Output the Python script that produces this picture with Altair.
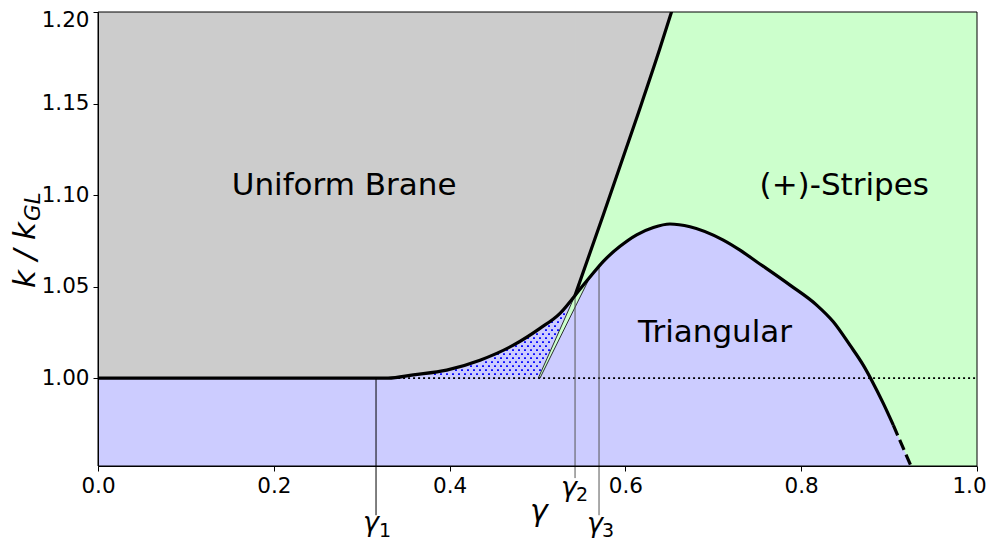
import altair as alt
import pandas as pd
import numpy as np

# ---------------- data ----------------
# Uniform-brane boundary (flat + curved part), ends at gamma_2 junction
uni_g = [0.0, 0.33, 0.3587, 0.3967, 0.4346, 0.4725, 0.5028, 0.5256, 0.5427]
uni_k = [1.0, 1.0, 1.0018, 1.0044, 1.0098, 1.0180, 1.0272, 1.0354, 1.0452]
# Uniform / (+)-stripes boundary (nearly straight)
str_g = [0.5427, 0.5749, 0.6128, 0.6394, 0.6527]
str_k = [1.0452, 1.0892, 1.1421, 1.1803, 1.2004]
# Triangular boundary (solid part)
tri_g = [0.5427, 0.5597, 0.5749, 0.5939, 0.6128, 0.6318, 0.6507, 0.6735, 0.7114,
         0.7304, 0.7493, 0.7873, 0.8176, 0.8365, 0.8555, 0.8706, 0.8801, 0.8934, 0.9048]
tri_k = [1.0452, 1.0552, 1.0638, 1.0720, 1.0783, 1.0823, 1.0842, 1.0827, 1.0754,
         1.0699, 1.0636, 1.0508, 1.0399, 1.0308, 1.0180, 1.0071, 0.9989, 0.9862, 0.9743]
# Triangular boundary (dashed continuation)
dash_g = [0.9048, 0.9256]
dash_k = [0.9743, 0.9512]
# thin auxiliary lines near gamma_2
lineA_g = [0.5009, 0.5427]
lineA_k = [1.0, 1.0452]
lineB_g = [0.5028, 0.5597]
lineB_k = [1.0, 1.0552]
# small green sliver between the thin lines
sliver_g = [0.5009, 0.5028, 0.5427, 0.5597]
sliver_hi = [1.0, 1.0021, 1.0452, 1.0552]
sliver_lo = [1.0, 1.0, 1.0387, 1.0552]
# special gammas
gam_names = ["γ1", "γ2", "γ3"]
gam_x = [0.3163, 0.5427, 0.5700]
gam_top = [1.0, 1.0452, 1.0620]
gam_bot = [0.9251, 0.9454, 0.9251]

K_MIN, K_MAX = 0.952, 1.2
W, H = 879, 454

xs = alt.Scale(domain=[0, 1], nice=False, zero=False)
ys = alt.Scale(domain=[K_MIN, K_MAX], nice=False, zero=False)
xaxis = alt.Axis(values=[0, 0.2, 0.4, 0.6, 0.8, 1.0], format=".1f", title=None,
                 grid=False, zindex=1, tickSize=5, labelPadding=4, labelFlush=False,
                 labelOffset={"expr": "datum.value >= 0.99 ? -8 : 0"})
yaxis = alt.Axis(values=[1.0, 1.05, 1.1, 1.15, 1.2], format=".2f", title=None,
                 grid=False, zindex=1, tickSize=5, labelPadding=4, labelFlush=True,
                 labelFlushOffset=3)


def X(f):
    return alt.X(f, type="quantitative", scale=xs, axis=xaxis)


def Y(f):
    return alt.Y(f, type="quantitative", scale=ys, axis=yaxis)


uni = pd.DataFrame({"g": uni_g, "k": uni_k, "base": K_MIN, "top": K_MAX})
stp = pd.DataFrame({"g": str_g, "k": str_k, "base": K_MIN, "top": K_MAX})
tri = pd.DataFrame({"g": tri_g, "k": tri_k})
tri_full = pd.DataFrame({"g": tri_g + dash_g[1:], "k": tri_k + dash_k[1:], "base": K_MIN})
dsh = pd.DataFrame({"g": dash_g, "k": dash_k})
sliver = pd.DataFrame({"g": sliver_g, "k": sliver_hi, "k2": sliver_lo})

BLUE = "#ccccff"
GRAY = "#cccccc"
GREEN = "#ccffcc"

blue1 = alt.Chart(uni).mark_area(color=BLUE, clip=True, interpolate="monotone").encode(
    x=X("g"), y=Y("k"), y2="base")
blue2 = alt.Chart(tri_full).mark_area(color=BLUE, clip=True, interpolate="monotone").encode(
    x=X("g"), y=Y("k"), y2="base")
gray1 = alt.Chart(uni).mark_area(color=GRAY, clip=True, interpolate="monotone").encode(
    x=X("g"), y=Y("k"), y2="top")
gray2 = alt.Chart(stp).mark_area(color=GRAY, clip=True, interpolate="monotone").encode(
    x=X("g"), y=Y("k"), y2="top")
green_sl = alt.Chart(sliver).mark_area(color=GREEN, clip=True).encode(
    x=X("g"), y=Y("k"), y2="k2")

# hatch texture (dots) inside the region between k=1 and the uniform curve, left of line A
dots = []
pxs = float(W)
pys = H / (K_MAX - K_MIN)
row = 0
for py in np.arange(0, 120, 4.0):
    kk = 1.0 + py / pys
    off = 3.0 if row % 2 else 0.0
    row += 1
    for px in np.arange(280 + off, 500, 6.0):
        gg = px / pxs
        u = np.interp(gg, uni_g, uni_k)
        ga = lineA_g[0] + (kk - 1.0) / (lineA_k[1] - lineA_k[0]) * (lineA_g[1] - lineA_g[0])
        if kk > 1.0 + 1.5 / pys and kk < u - 2.0 / pys and gg < ga - 1.5 / pxs:
            dots.append((gg, kk))
dots_df = pd.DataFrame(dots, columns=["g", "k"])
hatch = alt.Chart(dots_df).mark_square(size=3.5, color="#0000ff", opacity=1).encode(
    x=X("g"), y=Y("k"))

one_line = alt.Chart(pd.DataFrame({"g": [0.33, 1.0], "k": [1.0, 1.0]})).mark_line(
    color="black", strokeWidth=1.6, strokeDash=[2, 3], clip=True).encode(x=X("g"), y=Y("k"))

thinA = alt.Chart(pd.DataFrame({"g": lineA_g, "k": lineA_k})).mark_line(
    color="black", strokeWidth=0.8).encode(x=X("g"), y=Y("k"))
thinB = alt.Chart(pd.DataFrame({"g": lineB_g, "k": lineB_k})).mark_line(
    color="black", strokeWidth=0.8).encode(x=X("g"), y=Y("k"))

gdf = pd.DataFrame({"name": gam_names, "g": gam_x, "top": gam_top, "bot": gam_bot,
                    "col": ["black", "#555555", "#555555"]})
vlines = alt.Chart(gdf).mark_rule(strokeWidth=1).encode(
    x=X("g"), y=Y("top"), y2="bot", color=alt.Color("col:N", scale=None))

LW = 3.2
uni_line = alt.Chart(uni).mark_line(color="black", strokeWidth=LW, clip=True,
                                    interpolate="monotone").encode(x=X("g"), y=Y("k"))
str_line = alt.Chart(stp).mark_line(color="black", strokeWidth=LW, clip=True,
                                    interpolate="monotone").encode(x=X("g"), y=Y("k"))
tri_line = alt.Chart(tri).mark_line(color="black", strokeWidth=LW, clip=True,
                                    interpolate="monotone").encode(x=X("g"), y=Y("k"))
dash_line = alt.Chart(dsh).mark_line(color="black", strokeWidth=LW, clip=True,
                                     strokeDash=[11, 5]).encode(x=X("g"), y=Y("k"))

# region labels
reg_text = ["Uniform Brane", "(+)-Stripes", "Triangular"]
reg_g = [0.280, 0.849, 0.702]
reg_k = [1.100, 1.100, 1.0198]
regions = alt.Chart(pd.DataFrame({"t": reg_text, "g": reg_g, "k": reg_k})).mark_text(
    font="DejaVu Sans", fontSize=31, color="black", align="center", baseline="alphabetic"
).encode(x=X("g"), y=Y("k"), text="t")

# gamma labels (italic gamma + upright subscript)
glab = alt.Chart(pd.DataFrame({"t": ["γ", "γ", "γ"], "g": [0.3015, 0.5267, 0.5563],
                               "k": [0.9164, 0.9355, 0.9158]})).mark_text(
    font="DejaVu Sans", fontStyle="italic", fontSize=27, color="black", align="left",
    baseline="alphabetic").encode(x=X("g"), y=Y("k"), text="t")
gsub = alt.Chart(pd.DataFrame({"t": ["1", "2", "3"], "g": [0.3197, 0.5438, 0.5734],
                               "k": [0.9131, 0.9328, 0.9131]})).mark_text(
    font="DejaVu Sans", fontSize=19, color="black", align="left",
    baseline="alphabetic").encode(x=X("g"), y=Y("k"), text="t")

# axis titles
xtitle = alt.Chart(pd.DataFrame({"t": ["γ"], "g": [0.5017], "k": [0.9219]})).mark_text(
    font="DejaVu Sans", fontStyle="italic", fontSize=30, color="black", align="center",
    baseline="alphabetic").encode(x=X("g"), y=Y("k"), text="t")
ytitle_main = alt.Chart(pd.DataFrame({"t": ["k / k"]})).mark_text(
    font="DejaVu Sans", fontStyle="italic", fontSize=31, color="black", align="left",
    baseline="alphabetic", angle=270).encode(x=alt.value(-63), y=alt.value(276), text="t")
ytitle_sub = alt.Chart(pd.DataFrame({"t": ["GL"]})).mark_text(
    font="DejaVu Sans", fontStyle="italic", fontSize=21.5, color="black", align="left",
    baseline="alphabetic", angle=270).encode(x=alt.value(-58), y=alt.value(209), text="t")

frame = alt.Chart(pd.DataFrame({"g": [0.0], "g2": [1.0], "k": [K_MIN], "k2": [K_MAX]})).mark_rect(
    filled=False, stroke="black", strokeWidth=1).encode(x=X("g"), x2="g2", y=Y("k"), y2="k2")

chart = alt.layer(
    blue1, blue2, gray1, gray2, green_sl, hatch, one_line, thinA, thinB, vlines,
    uni_line, str_line, tri_line, dash_line, regions, glab, gsub, xtitle,
    ytitle_main, ytitle_sub, frame
).properties(
    width=W, height=H,
    autosize=alt.AutoSizeParams(type="none"),
    padding={"left": 90, "top": 4, "right": 10, "bottom": 76},
).configure_view(
    fill=GREEN, stroke=None
).configure_axis(
    labelFont="DejaVu Sans", labelFontSize=21.5, labelColor="black",
    tickColor="black", domainColor="black", domainWidth=1, tickWidth=1
)

chart.save("out.html", embed_options={"renderer": "svg", "actions": False})
